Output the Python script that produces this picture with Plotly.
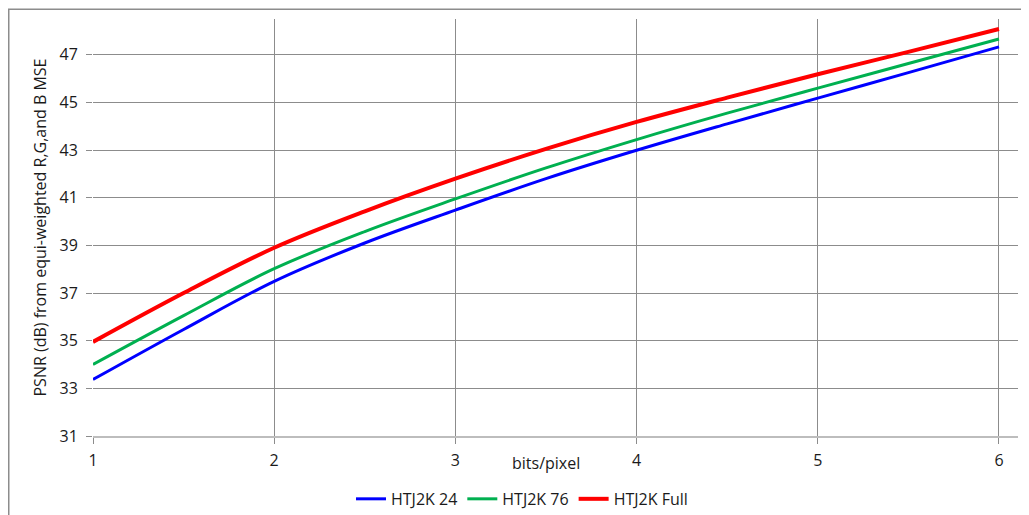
import plotly.graph_objects as go

bpp = [1, 1.5, 2, 2.5, 3, 3.5, 4, 4.5, 5, 5.5, 6]
htj2k_24 = [33.37, 35.47, 37.49, 39.10, 40.48, 41.80, 42.99, 44.10, 45.18, 46.25, 47.33]
htj2k_76 = [34.00, 36.05, 38.02, 39.58, 40.95, 42.25, 43.44, 44.55, 45.60, 46.63, 47.66]
htj2k_full = [34.95, 37.00, 38.90, 40.43, 41.80, 43.05, 44.18, 45.20, 46.18, 47.12, 48.08]

series_names = ["HTJ2K 24", "HTJ2K 76", "HTJ2K Full"]
series_values = [htj2k_24, htj2k_76, htj2k_full]
colors = ["#0000ff", "#00b050", "#ff0000"]
widths = [3, 3, 4]

x_ticks = [1, 2, 3, 4, 5, 6]
y_ticks = [31, 33, 35, 37, 39, 41, 43, 45, 47]

fig = go.Figure()
for name, vals, c, w in zip(series_names, series_values, colors, widths):
    fig.add_trace(go.Scatter(x=bpp, y=vals, mode="lines", name=name,
                             line=dict(color=c, width=w, shape="spline", smoothing=1.0)))

grid = "#8c8c8c"
font = "Open Sans"
txt = "#1a1a1a"
OFF = 8  # page body margin
W, H = 1029 - OFF, 515 - OFF
L, R, T, B = 93 - OFF, W - (1018 - OFF), 18.5 - OFF, H - (436 - OFF)
pw, ph = W - L - R, H - T - B

def px_x(p):
    return (p - OFF - L) / pw

def px_y(p):
    return (H - B - (p - OFF)) / ph

fig.update_layout(
    width=W, height=H,
    margin=dict(l=L, r=R, t=T, b=B, autoexpand=False),
    paper_bgcolor="white", plot_bgcolor="white",
    font=dict(family=font, color=txt),
    showlegend=True,
    legend=dict(orientation="h", x=px_x(522), xanchor="center", y=px_y(499), yanchor="middle",
                font=dict(size=16, family=font, color=txt), itemwidth=30,
                traceorder="normal", bgcolor="rgba(0,0,0,0)"),
    xaxis=dict(range=[1, 6.105], tickvals=x_ticks, showgrid=True, gridcolor=grid, gridwidth=1,
               ticks="outside", ticklen=6, tickcolor=grid, tickfont=dict(size=16, family=font, color=txt),
               showline=True, linecolor="#bdbdbd", linewidth=2, zeroline=False, ticklabelstandoff=3,
               automargin=False),
    yaxis=dict(range=[31, 48.5], tickvals=y_ticks, showgrid=True, gridcolor=grid, gridwidth=1,
               ticks="outside", ticklen=6, tickcolor=grid, tickfont=dict(size=16, family=font, color=txt),
               showline=False, zeroline=False, automargin=False, ticklabelstandoff=5,
               title=dict(text="PSNR (dB) from equi-weighted R,G,and B MSE",
                          font=dict(size=16, family=font, color=txt), standoff=8)),
    annotations=[dict(text="bits/pixel", x=px_x(546), y=px_y(463), xref="paper", yref="paper",
                      showarrow=False, xanchor="center", yanchor="middle",
                      font=dict(size=16, family=font, color=txt))],
    shapes=[dict(type="rect", xref="paper", yref="paper", x0=px_x(8.75), x1=px_x(1022),
                 y0=px_y(540), y1=px_y(8.75), line=dict(color="#8c8c8c", width=1.5), layer="below")],
)

fig.write_html("out.html")
